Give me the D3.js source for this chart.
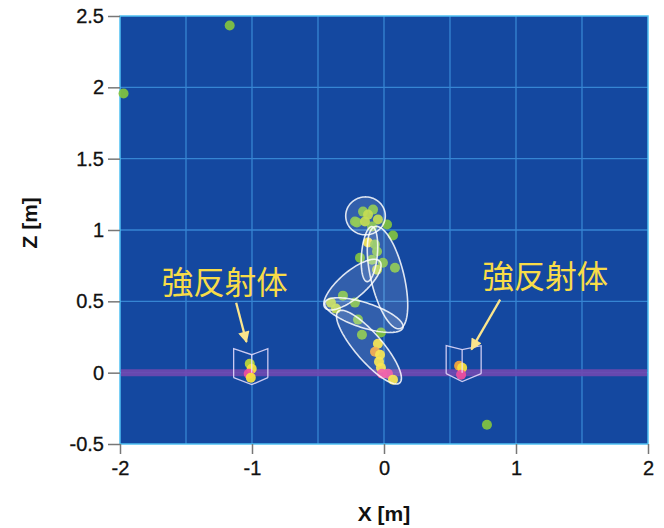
<!DOCTYPE html>
<html>
<head>
<meta charset="utf-8">
<script src="https://cdn.jsdelivr.net/npm/d3@7"></script>
<style>
  html, body { margin: 0; padding: 0; background: #ffffff; }
  svg { display: block; }
</style>
</head>
<body>
<svg id="chart" width="664" height="528"></svg>
<script>
// Axis ticks
const xTicks = [-2, -1, 0, 1, 2];
const zTicks = [-0.5, 0, 0.5, 1, 1.5, 2, 2.5];
const gridStep = [-1.5, -1, -0.5, 0, 0.5, 1, 1.5];
const zGrid = [0, 0.5, 1, 1.5, 2];

// Radar echo points: X [m], Z [m], intensity class (0 = weak ... 4 = strongest)
const echoX = [
  -1.169, -1.973, 0.780,
  -0.159, -0.083, -0.121, -0.205, -0.046, -0.091, 0.023, 0.068, -0.220, -0.144,
  -0.121, -0.068, -0.053, -0.182, -0.091, -0.008, 0.083, -0.053,
  -0.311, -0.220, -0.402, -0.364, -0.197, -0.167, -0.023,
  -0.046, -0.068, -0.030, -0.038, -0.023, -0.015, 0.030, 0.068,
  -1.017, -1.002, -1.025, -1.009,
  0.569, 0.592, 0.584
];
const echoZ = [
  2.433, 1.957, -0.365,
  1.129, 1.143, 1.108, 1.052, 1.073, 1.024, 1.038, 0.961, 1.059, 1.059,
  0.912, 0.898, 0.849, 0.806, 0.792, 0.771, 0.736, 0.722,
  0.540, 0.491, 0.491, 0.449, 0.372, 0.266, 0.281,
  0.203, 0.147, 0.126, 0.077, 0.035, -0.007, -0.007, -0.049,
  0.063, 0.028, -0.007, -0.035,
  0.049, 0.035, -0.014
];
const echoLevel = [
  0, 0, 0,
  0, 0, 1, 0, 1, 0, 0, 0, 0, 1,
  2, 0, 0, 0, 0, 0, 0, 1,
  0, 0, 1, 1, 0, 0, 0,
  2, 3, 2, 2, 2, 4, 4, 2,
  1, 2, 4, 2,
  3, 2, 4
];
const levelColors = ["#82c341", "#bcd83a", "#f8e23c", "#f6a53a", "#ef4f9e"];

// Body-part ellipses: axis end points (x1, z1, x2, z2) and half width, all in metres
const bodyX1 = [-0.140, -0.091, -0.068, -0.448, -0.448, -0.349];
const bodyZ1 = [1.232, 1.024, 1.024, 0.456, 0.491, 0.428];
const bodyX2 = [-0.140, -0.129, 0.121, -0.030, 0.144, 0.121];
const bodyZ2 = [0.966, 0.638, 0.309, 0.778, 0.316, -0.070];
const bodyHalfWidth = [0.150, 0.060, 0.125, 0.095, 0.088, 0.100];

// Corner reflector outlines: [left, middle, right] x, outer/middle top and bottom z
const reflLeft = [-1.139, 0.471];
const reflMid = [-1.002, 0.592];
const reflRight = [-0.880, 0.736];
const reflTopOuter = [0.168, 0.189];
const reflTopMid = [0.126, 0.161];
const reflBottomOuter = [-0.035, -0.007];
const reflBottomMid = [-0.084, -0.063];

// Annotation labels and arrows
const noteText = ["強反射体", "強反射体"];
const noteX = [-1.207, 1.222];
const noteZ = [0.552, 0.596];
const arrowTailX = [-1.120, 0.880];
const arrowTailZ = [0.490, 0.512];
const arrowTipX = [-1.042, 0.662];
const arrowTipZ = [0.215, 0.163];

const svg = d3.select("#chart");
const plotLeft = 120, plotRight = 648, plotTop = 16, plotBottom = 444;

const x = d3.scaleLinear().domain([-2, 2]).range([plotLeft, plotRight]);
const z = d3.scaleLinear().domain([-0.5, 2.5]).range([plotBottom, plotTop]);

// Plot background
svg.append("rect")
  .attr("x", plotLeft).attr("y", plotTop)
  .attr("width", plotRight - plotLeft).attr("height", plotBottom - plotTop)
  .attr("fill", "#1448a0");

// Grid
const grid = svg.append("g").attr("stroke", "#3f95e0").attr("stroke-width", 1.3).attr("opacity", 0.8);
grid.selectAll("line.gx").data(gridStep).join("line")
  .attr("x1", d => x(d)).attr("x2", d => x(d))
  .attr("y1", plotTop).attr("y2", plotBottom);
grid.selectAll("line.gz").data(zGrid).join("line")
  .attr("x1", plotLeft).attr("x2", plotRight)
  .attr("y1", d => z(d)).attr("y2", d => z(d));

// Plot frame
svg.append("rect")
  .attr("x", plotLeft).attr("y", plotTop)
  .attr("width", plotRight - plotLeft).attr("height", plotBottom - plotTop)
  .attr("fill", "none").attr("stroke", "#4fc0f2").attr("stroke-width", 1.5);

// Ground band at Z = 0
svg.append("line")
  .attr("x1", plotLeft + 1).attr("x2", plotRight - 1)
  .attr("y1", z(0)).attr("y2", z(0))
  .attr("stroke", "#7048b0").attr("stroke-width", 7).attr("opacity", 0.9);

// Echo points
const echoes = echoX.map((v, i) => ({ x: v, z: echoZ[i], level: echoLevel[i] }));
svg.append("g").selectAll("circle").data(echoes).join("circle")
  .attr("cx", d => x(d.x)).attr("cy", d => z(d.z))
  .attr("r", 5)
  .attr("fill", d => levelColors[d.level])
  .attr("opacity", 0.93);

// Body ellipses
const ellipseLine = d3.line().x(p => x(p[0])).y(p => z(p[1])).curve(d3.curveLinearClosed);
const bodies = bodyX1.map((v, i) => {
  const cx = (v + bodyX2[i]) / 2, cz = (bodyZ1[i] + bodyZ2[i]) / 2;
  const ux = (bodyX2[i] - v) / 2, uz = (bodyZ2[i] - bodyZ1[i]) / 2;
  const len = Math.hypot(ux, uz) || 1;
  const vx = -uz / len * bodyHalfWidth[i], vz = ux / len * bodyHalfWidth[i];
  return d3.range(0, 96).map(k => {
    const t = k / 96 * 2 * Math.PI;
    return [cx + Math.cos(t) * ux + Math.sin(t) * vx, cz + Math.cos(t) * uz + Math.sin(t) * vz];
  });
});
svg.append("g").selectAll("path").data(bodies).join("path")
  .attr("d", ellipseLine)
  .attr("fill", "rgba(255,255,255,0.13)")
  .attr("stroke", "rgba(255,255,255,0.85)")
  .attr("stroke-width", 1.6);

// Corner reflectors
const reflLine = d3.line().x(p => x(p[0])).y(p => z(p[1]));
const reflPaths = [];
reflLeft.forEach((l, i) => {
  const m = reflMid[i], r = reflRight[i];
  reflPaths.push([[l, reflBottomOuter[i]], [l, reflTopOuter[i]], [m, reflTopMid[i]], [r, reflTopOuter[i]], [r, reflBottomOuter[i]]]);
  reflPaths.push([[l, reflBottomOuter[i]], [m, reflBottomMid[i]], [r, reflBottomOuter[i]]]);
  reflPaths.push([[m, reflTopMid[i]], [m, 0]]);
});
svg.append("g").selectAll("path").data(reflPaths).join("path")
  .attr("d", reflLine)
  .attr("fill", "none")
  .attr("stroke", "rgba(235,225,255,0.85)")
  .attr("stroke-width", 1.3);

// Arrows
const defs = svg.append("defs");
defs.append("marker")
  .attr("id", "arrowHead")
  .attr("viewBox", "0 0 10 10")
  .attr("refX", 9).attr("refY", 5)
  .attr("markerWidth", 5.5).attr("markerHeight", 5)
  .attr("markerUnits", "strokeWidth")
  .attr("orient", "auto")
  .append("path").attr("d", "M0,0 L10,5 L0,10 Z").attr("fill", "#fbe58c");
svg.append("g").selectAll("line").data(arrowTailX).join("line")
  .attr("x1", (d, i) => x(d)).attr("y1", (d, i) => z(arrowTailZ[i]))
  .attr("x2", (d, i) => x(arrowTipX[i])).attr("y2", (d, i) => z(arrowTipZ[i]))
  .attr("stroke", "#fbe58c").attr("stroke-width", 2.3)
  .attr("marker-end", "url(#arrowHead)");

// Annotation labels
svg.append("g").selectAll("text").data(noteText).join("text")
  .attr("x", (d, i) => x(noteX[i])).attr("y", (d, i) => z(noteZ[i]))
  .attr("text-anchor", "middle")
  .attr("font-family", "'Noto Sans CJK JP', sans-serif")
  .attr("font-size", 31.5)
  .attr("fill", "#f8dc48")
  .text(d => d);

// Axes
const fmt = d => String(d);
const xAxis = svg.append("g").attr("transform", `translate(0,${plotBottom})`)
  .call(d3.axisBottom(x).tickValues(xTicks).tickFormat(fmt).tickSize(10).tickPadding(7));
const zAxis = svg.append("g").attr("transform", `translate(${plotLeft},0)`)
  .call(d3.axisLeft(z).tickValues(zTicks).tickFormat(fmt).tickSize(12).tickPadding(4));
[xAxis, zAxis].forEach(a => {
  a.select(".domain").remove();
  a.selectAll(".tick line").attr("stroke", "#777").attr("stroke-width", 1.5);
  a.selectAll(".tick text")
    .attr("fill", "#111")
    .attr("font-family", "Arial, 'Liberation Sans', sans-serif")
    .attr("font-size", 20)
    .attr("stroke", "#111").attr("stroke-width", 0.3);
});

// Axis titles
svg.append("text")
  .attr("x", x(0)).attr("y", 521)
  .attr("text-anchor", "middle")
  .attr("font-family", "Arial, 'Liberation Sans', sans-serif")
  .attr("font-weight", "bold").attr("font-size", 21)
  .attr("fill", "#111")
  .text("X [m]");
svg.append("text")
  .attr("transform", `translate(37,${z(1.05)}) rotate(-90)`)
  .attr("text-anchor", "middle")
  .attr("font-family", "Arial, 'Liberation Sans', sans-serif")
  .attr("font-weight", "bold").attr("font-size", 21)
  .attr("fill", "#111")
  .text("Z [m]");
</script>
</body>
</html>
